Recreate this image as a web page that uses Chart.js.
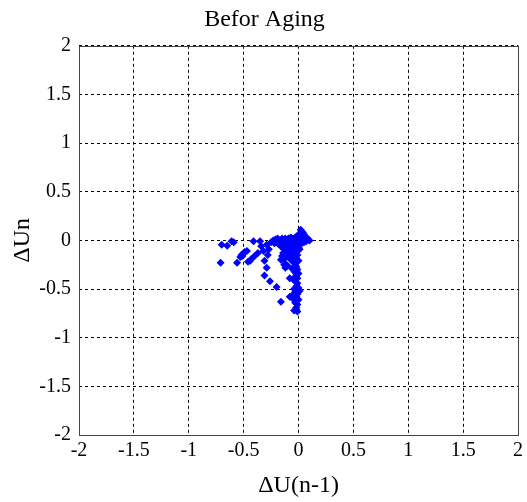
<!DOCTYPE html>
<html lang="en">
<head>
    <meta charset="UTF-8">
    <title>Befor Aging</title>
    <style>
        body { margin: 0; background: #fff; }
        #wrap { width: 527px; height: 502px; }
    </style>
    <script src="https://cdn.jsdelivr.net/npm/chart.js"></script>
</head>
<body>
<div id="wrap"><canvas id="scatter"></canvas></div>
<script>
    // axis ticks
    const tickValues = [-2, -1.5, -1, -0.5, 0, 0.5, 1, 1.5, 2];

    // scattered points left of the main cluster  [dU(n-1), dUn]
    const leftPoints = [
        [-0.70, -0.045], [-0.65, -0.055], [-0.61, -0.01], [-0.59, -0.02], [-0.71, -0.23],
        [-0.56, -0.23], [-0.53, -0.17], [-0.52, -0.15], [-0.51, -0.16], [-0.50, -0.13],
        [-0.49, -0.12], [-0.47, -0.11], [-0.46, -0.22], [-0.44, -0.21], [-0.43, -0.19],
        [-0.40, -0.16], [-0.41, -0.01], [-0.37, -0.13], [-0.35, -0.01], [-0.34, -0.06],
        [-0.32, -0.11], [-0.31, -0.21], [-0.29, -0.045], [-0.28, -0.15], [-0.29, -0.28],
        [-0.27, -0.09], [-0.31, -0.36], [-0.26, -0.42], [-0.20, -0.48], [-0.16, -0.63],
        [-0.25, -0.02], [-0.22, -0.03]
    ];

    // dense cluster around the origin
    const clusterPoints = [
        [-0.23, 0.00], [-0.21, 0.01], [-0.20, -0.02], [-0.19, 0.02], [-0.18, -0.04],
        [-0.17, 0.00], [-0.16, -0.06], [-0.15, 0.02], [-0.15, -0.03], [-0.14, -0.08],
        [-0.13, 0.01], [-0.13, -0.05], [-0.12, -0.10], [-0.12, 0.02], [-0.11, -0.02],
        [-0.11, -0.06], [-0.10, 0.01], [-0.10, -0.04], [-0.10, -0.09], [-0.09, -0.12],
        [-0.09, 0.02], [-0.08, -0.01], [-0.08, -0.05], [-0.08, -0.08], [-0.07, 0.03],
        [-0.07, -0.03], [-0.07, -0.10], [-0.06, 0.00], [-0.06, -0.06], [-0.06, -0.12],
        [-0.05, 0.02], [-0.05, -0.03], [-0.05, -0.08], [-0.04, 0.01], [-0.04, -0.05],
        [-0.04, -0.10], [-0.03, 0.03], [-0.03, -0.01], [-0.03, -0.07], [-0.03, -0.12],
        [-0.02, 0.02], [-0.02, -0.03], [-0.02, -0.09], [-0.01, 0.00], [-0.01, -0.05],
        [-0.01, -0.11], [0.00, 0.03], [0.00, -0.02], [0.00, -0.07], [0.01, 0.01],
        [0.01, -0.04], [0.01, -0.09], [0.02, 0.11], [0.02, 0.07], [0.02, 0.03],
        [0.02, -0.01], [0.03, 0.09], [0.03, 0.05], [0.03, 0.01], [0.04, 0.08],
        [0.04, 0.04], [0.04, 0.00], [0.05, 0.06], [0.05, 0.02], [0.06, 0.04],
        [0.06, 0.01], [0.07, 0.03], [0.08, 0.02], [0.09, 0.01], [0.10, 0.00],
        [0.07, -0.01], [0.05, -0.02], [0.03, -0.03], [0.01, 0.05], [0.00, 0.06],
        [-0.14, -0.13], [-0.15, -0.16], [-0.13, -0.19], [-0.16, -0.20], [-0.12, -0.24],
        [-0.10, -0.16], [-0.08, -0.14], [-0.07, -0.20], [-0.06, -0.17], [-0.05, -0.22],
        [-0.04, -0.15], [-0.02, -0.18], [-0.01, -0.15], [0.00, -0.21], [-0.03, -0.24]
    ];

    // vertical stream just left of dU(n-1) = 0
    const streamPoints = [
        [-0.02, -0.27], [-0.01, -0.30], [-0.03, -0.33], [-0.04, -0.31], [-0.02, -0.36],
        [0.00, -0.34], [-0.01, -0.39], [-0.05, -0.40], [-0.03, -0.42], [-0.01, -0.44],
        [-0.02, -0.47], [0.00, -0.49], [-0.04, -0.50], [-0.03, -0.53], [-0.01, -0.55],
        [-0.02, -0.58], [-0.05, -0.60], [0.00, -0.61], [-0.03, -0.64], [-0.01, -0.66],
        [-0.02, -0.69], [-0.04, -0.72], [-0.02, -0.71], [-0.01, -0.73], [-0.06, -0.57],
        [-0.08, -0.58], [-0.08, -0.39], [-0.10, -0.26], [-0.12, -0.28], [-0.13, -0.25],
        [-0.06, -0.29], [0.01, -0.52]
    ];

    const allPoints = leftPoints.concat(clusterPoints, streamPoints)
        .map(p => ({ x: p[0], y: p[1] }));

    const frame = {
        id: 'frame',
        afterDraw(chart) {
            const a = chart.chartArea, c = chart.ctx;
            c.save();
            c.strokeStyle = '#444';
            c.lineWidth = 1;
            c.strokeRect(Math.round(a.left) + 0.5, Math.round(a.top) + 0.5,
                Math.round(a.right - a.left), Math.round(a.bottom - a.top));
            c.restore();
        }
    };

    const serif = 'Liberation Serif, Times New Roman, serif';
    const gridOpts = {
        color: '#000',
        lineWidth: 1,
        drawTicks: false
    };
    const plainLabel = v => String(v);

    new Chart(document.getElementById('scatter'), {
        type: 'scatter',
        data: {
            datasets: [{
                label: 'Befor Aging',
                data: allPoints,
                backgroundColor: '#0000ff',
                borderColor: '#0000ff',
                pointStyle: 'rectRot',
                pointRadius: 4,
                borderWidth: 0
            }]
        },
        options: {
            responsive: true,
            maintainAspectRatio: false,
            animation: false,
            layout: { padding: { top: 1, right: 6, bottom: 0, left: 8 } },
            plugins: {
                legend: { display: false },
                tooltip: { enabled: false },
                title: {
                    display: true,
                    text: 'Befor Aging',
                    color: '#000',
                    font: { family: serif, size: 24, weight: 'normal' },
                    padding: { top: 4, bottom: 12 }
                }
            },
            scales: {
                x: {
                    type: 'linear',
                    min: -2, max: 2,
                    afterBuildTicks: s => { s.ticks = tickValues.map(v => ({ value: v })); },
                    grid: gridOpts,
                    border: { display: false, dash: [3, 3] },
                    ticks: { color: '#000', padding: 4, callback: plainLabel, font: { family: serif, size: 20 } },
                    title: {
                        display: true, text: 'ΔU(n-1)', color: '#000',
                        font: { family: serif, size: 24 }, padding: { top: 8, bottom: 2 }
                    },
                    afterFit: s => { s.height = 67; }
                },
                y: {
                    type: 'linear',
                    min: -2, max: 2,
                    afterBuildTicks: s => { s.ticks = tickValues.map(v => ({ value: v })); },
                    grid: gridOpts,
                    border: { display: false, dash: [3, 3] },
                    ticks: { color: '#000', padding: 8, callback: plainLabel, font: { family: serif, size: 20 } },
                    title: {
                        display: true, text: 'ΔUn', color: '#000',
                        font: { family: serif, size: 24 }, padding: { top: 0, bottom: 4 }
                    },
                    afterFit: s => { s.width = 71; }
                }
            }
        },
        plugins: [frame]
    });
</script>
</body>
</html>
